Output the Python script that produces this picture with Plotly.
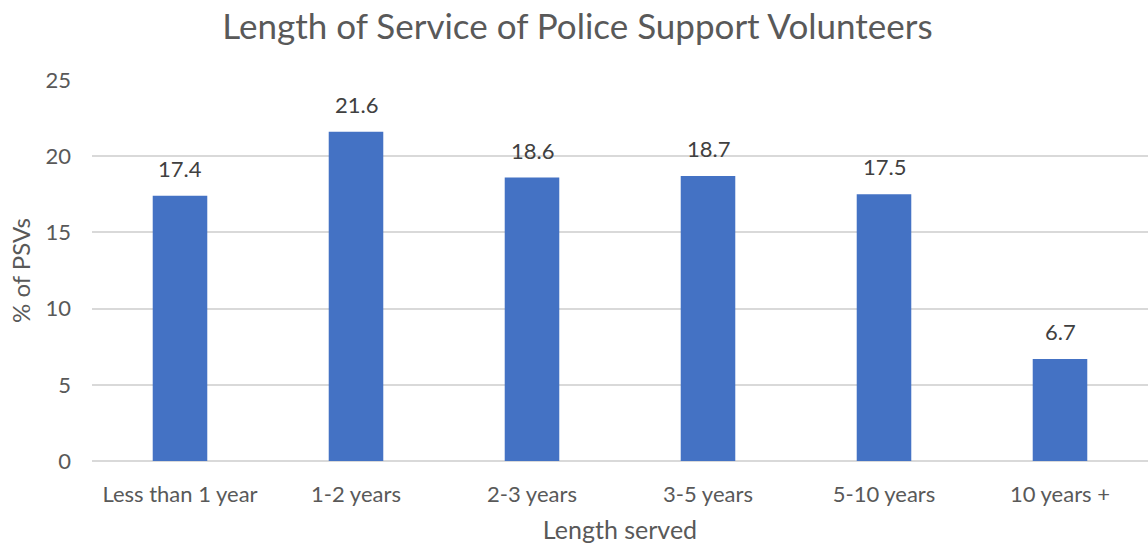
import plotly.graph_objects as go

categories = ["Less than 1 year", "1-2 years", "2-3 years", "3-5 years", "5-10 years", "10 years +"]
percent_psvs = [17.4, 21.6, 18.6, 18.7, 17.5, 6.7]

FONT = "Lato"
GREY = "#595959"
BAR = "#4472C4"

fig = go.Figure()
fig.add_trace(go.Bar(
    x=categories,
    y=percent_psvs,
    marker=dict(color=BAR, line=dict(width=0)),
    width=0.31,
    hoverinfo="x+y",
))

# value labels above each bar
for cat, val in zip(categories, percent_psvs):
    fig.add_annotation(
        x=cat, y=val, text=f"{val:.1f}", showarrow=False,
        yanchor="bottom", yshift=12,
        font=dict(family=FONT, size=22, color="#404040"),
    )

fig.update_layout(
    width=1148, height=544,
    margin=dict(l=92, r=0, t=80, b=83),
    paper_bgcolor="white", plot_bgcolor="white",
    showlegend=False,
    title=dict(
        text="Length of Service of Police Support Volunteers",
        x=0.503, xanchor="center", y=0.95, yanchor="middle",
        font=dict(family=FONT, size=35, color=GREY),
    ),
    xaxis=dict(
        range=[-0.5, 5.5],
        showgrid=False, showline=False, zeroline=False,
        tickfont=dict(family=FONT, size=22, color=GREY),
        ticklabelstandoff=18,
        title=dict(text="Length served", standoff=15,
                   font=dict(family=FONT, size=25, color=GREY)),
    ),
    yaxis=dict(
        range=[0, 25], dtick=5, tick0=0,
        showgrid=True, gridcolor="#D9D9D9", gridwidth=1.5,
        zeroline=True, zerolinecolor="#D9D9D9", zerolinewidth=1.5,
        showline=False,
        tickfont=dict(family=FONT, size=22, color=GREY),
        ticklabelstandoff=20,
        title=dict(text="% of PSVs", standoff=8,
                   font=dict(family=FONT, size=24, color=GREY)),
    ),
)

fig.write_html("out.html")
